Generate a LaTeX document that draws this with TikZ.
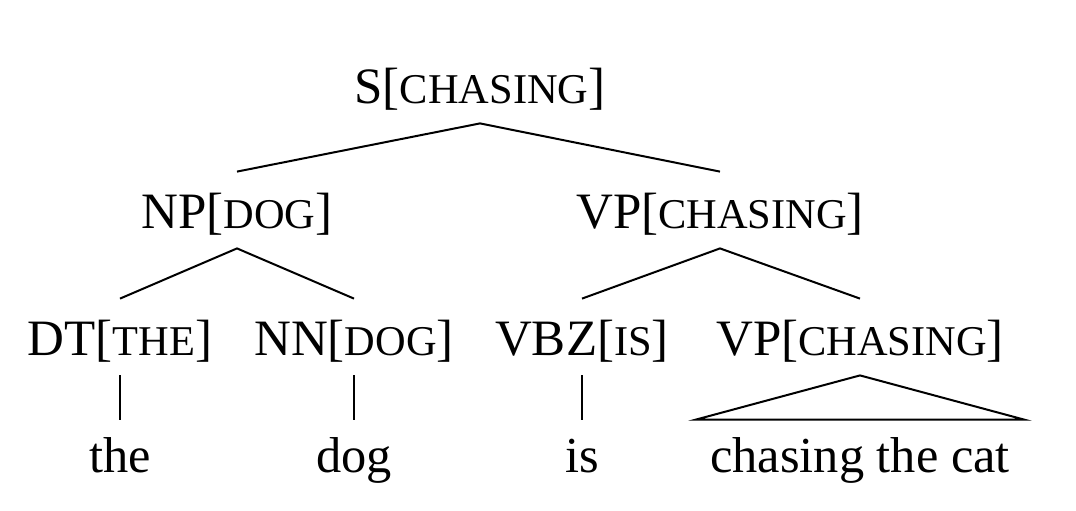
\documentclass[tikz,border=0pt]{standalone}
\usepackage{fontspec}
\setmainfont{Liberation Serif}
\usetikzlibrary{positioning}
\newcommand{\smc}[1]{{\fontsize{21.2}{24}\selectfont\MakeUppercase{#1}}}

\begin{document}
\begin{tikzpicture}[x=0.5pt,y=-0.5pt,
        cat/.style={anchor=base,inner sep=0pt,text height=28pt,text depth=10pt,font=\fontsize{25.5}{30}\selectfont},
        word/.style={anchor=base,inner ysep=0pt,inner xsep=7pt,text height=26pt,font=\fontsize{25.2}{30}\selectfont},
        branch/.style={line width=1pt}]
    \useasboundingbox (0,0) rectangle (1076,510);

    % categories
    \node[cat] (s)    at (480,103) {S[\smc{chasing}]};
    \node[cat] (np)   at (237,228) {NP[\smc{dog}]};
    \node[cat] (vp)   at (720,228) {VP[\smc{chasing}]};
    \node[cat] (dt)   at (120,355) {DT[\smc{the}]};
    \node[cat] (nn)   at (354,355) {NN[\smc{dog}]};
    \node[cat] (vbz)  at (582,355) {VBZ[\smc{is}]};
    \node[cat] (vp2)  at (860,355) {VP[\smc{chasing}]};

    % words
    \node[word] (the)   at (120,472) {the};
    \node[word] (dog)   at (354,472) {dog};
    \node[word] (is)    at (582,472) {is};
    \node[word] (rest)  at (860,472) {chasing the cat};

    % branches
    \draw[branch] (np.north) -- (s.south) -- (vp.north);
    \draw[branch] (dt.north) -- (np.south) -- (nn.north);
    \draw[branch] (vbz.north) -- (vp.south) -- (vp2.north);
    \draw[branch] (dt.south) -- (the.north);
    \draw[branch] (nn.south) -- (dog.north);
    \draw[branch] (vbz.south) -- (is.north);
    \draw[branch] (vp2.south) -- (rest.north west) -- (rest.north east) -- cycle;
\end{tikzpicture}
\end{document}
